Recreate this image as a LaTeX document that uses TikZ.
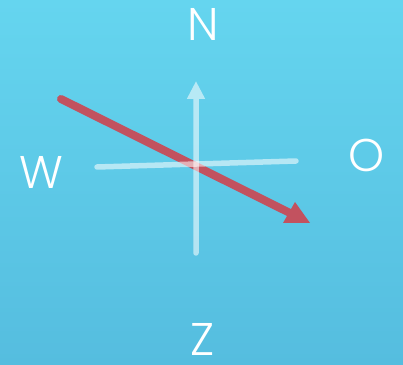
\documentclass[tikz,border=0pt]{standalone}
\usepackage{fontspec}
\usetikzlibrary{arrows.meta}
\newfontfamily\compassfont{Poppins Light}
\definecolor{skytop}{HTML}{65D5EF}
\definecolor{skybottom}{HTML}{55BDDF}
\definecolor{needlered}{HTML}{C2525F}

\begin{document}
\begin{tikzpicture}[x=1bp, y=1bp,
  dirlabel/.style={text=white, inner sep=0pt, font=\compassfont\fontsize{46}{46}\selectfont},
  axisline/.style={draw=white, line width=5.5bp, line cap=round},
  needle/.style={draw=needlered, line width=8bp, line cap=round}]

  \useasboundingbox (0,0) rectangle (403,365);
  \shade[top color=skytop, bottom color=skybottom] (0,0) rectangle (403,365);

  % labels
  \node[dirlabel] (nN) at (203,340.5) {N};
  \node[dirlabel] (nW) at (41,192) {W};
  \node[dirlabel] (nO) at (367,209.5) {O};
  \node[dirlabel] (nZ) at (202.5,25.5) {Z};

  % needle
  \coordinate (redstart) at (61,266);
  \coordinate (redend) at (296,149);
  \draw[needle] (redstart) -- (redend);
  \fill[needlered] (283,142) -- (310,142) -- (295,163) -- cycle;

  % cross
  \coordinate (westend) at (97,198);
  \coordinate (eastend) at (296,204);
  \coordinate (southend) at (196,112);
  \coordinate (northend) at (196,284);
  \begin{scope}[transparency group, opacity=0.55]
    \draw[axisline] (westend) -- (eastend);
  \end{scope}
  \begin{scope}[transparency group, opacity=0.55]
    \draw[axisline, -{Triangle[length=18bp, width=17bp]}] (southend) -- (northend);
  \end{scope}

\end{tikzpicture}
\end{document}
